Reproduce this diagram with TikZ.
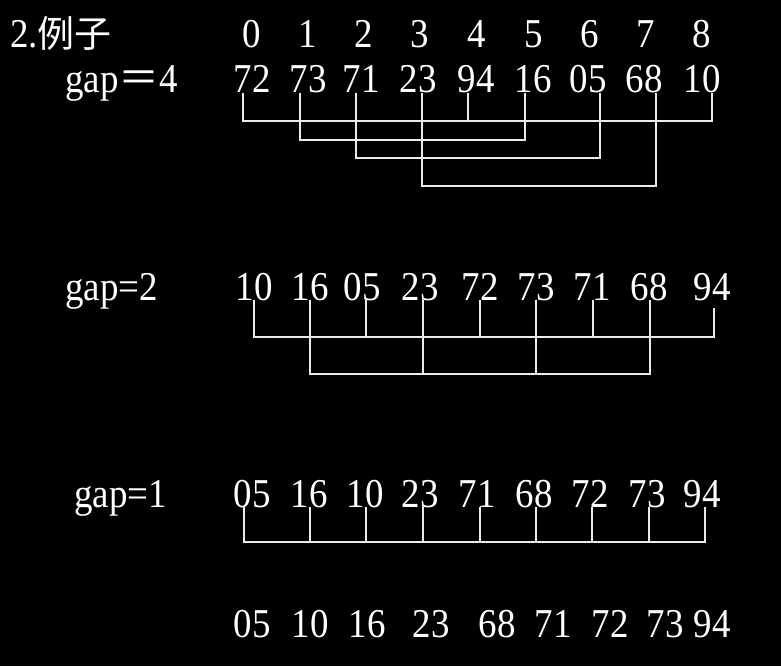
\documentclass[tikz,border=0pt]{standalone}
\usepackage{fontspec}
\setmainfont{Liberation Serif}[FakeStretch=0.9]
\newfontfamily\cjk{Noto Sans CJK SC}
\usetikzlibrary{calc}

\tikzset{
	num/.style={text=white, inner sep=0pt, anchor=base, font=\fontsize{41}{49}\selectfont},
	lbl/.style={num, anchor=base west},
	link/.style={draw=white!92!black, line width=1.3pt},
}

\begin{document}
\begin{tikzpicture}[x=1pt,y=-1pt]
	\fill[black] (0,0) rectangle (781,666);
	\useasboundingbox (0,0) rectangle (781,666);

	\node[lbl] (title) at (10,48) {2.{\cjk\fontsize{37}{44}\selectfont 例子}};
	\node[lbl] (gapfour) at (65,93) {gap{\cjk ＝}4};
	\node[lbl] (gaptwo) at (65,300) {gap=2};
	\node[lbl] (gapone) at (74,507) {gap=1};

	\foreach \i/\x in {0/252,1/308,2/364,3/420,4/477,5/534,6/590,7/646,8/702}
		\node[num] (i\i) at (\x,48) {\i};

	% gap=4
	\foreach \i/\v/\x/\d in {0/72/252/-9, 1/73/308/-8, 2/71/361/-5, 3/23/418/4, 4/94/476/-8,
		5/16/533/-8, 6/05/588/12, 7/68/644/12, 8/10/702/10}{
		\node[num] (a\i) at (\x,93) {\v};
		\coordinate (ta\i) at ([xshift=\d pt]a\i.base);
	}
	\draw[link] (ta0) -- ++(0,28) -| (ta8);
	\draw[link] (ta4) -- ++(0,28);
	\draw[link] (ta1) -- ++(0,47) -| (ta5);
	\draw[link] (ta2) -- ++(0,65) -| (ta6);
	\draw[link] (ta3) -- ++(0,93) -| (ta7);

	% gap=2
	\foreach \i/\v/\x/\d in {0/10/254/0, 1/16/310/0, 2/05/362/4, 3/23/420/3, 4/72/480/0,
		5/73/536/0, 6/71/592/1, 7/68/649/1, 8/94/712/2}{
		\node[num] (b\i) at (\x,300) {\v};
		\coordinate (tb\i) at ([xshift=\d pt]b\i.base);
	}
	\draw[link] (tb0) -- ++(0,37) -| ([yshift=-8pt]tb8);
	\foreach \i in {2,4,6}
		\draw[link] (tb\i) -- ++(0,37);
	\draw[link] (tb1) -- ++(0,74) -| (tb7);
	\foreach \i in {3,5}
		\draw[link] (tb\i) -- ++(0,74);

	% gap=1
	\foreach \i/\v/\x/\d in {0/05/252/-8, 1/16/309/1, 2/10/365/1, 3/23/420/3, 4/71/477/3,
		5/68/534/2, 6/72/590/2, 7/73/647/2, 8/94/702/3}{
		\node[num] (c\i) at (\x,507) {\v};
		\coordinate (tc\i) at ([xshift=\d pt]c\i.base);
	}
	\draw[link] (tc0) -- ++(0,35) -| (tc8);
	\foreach \i in {1,...,7}
		\draw[link] (tc\i) -- ++(0,35);

	% sorted
	\foreach \i/\v/\x in {0/05/252, 1/10/310, 2/16/367, 3/23/431, 4/68/497,
		5/71/553, 6/72/610, 7/73/665, 8/94/712}
		\node[num] (d\i) at (\x,637) {\v};
\end{tikzpicture}
\end{document}
